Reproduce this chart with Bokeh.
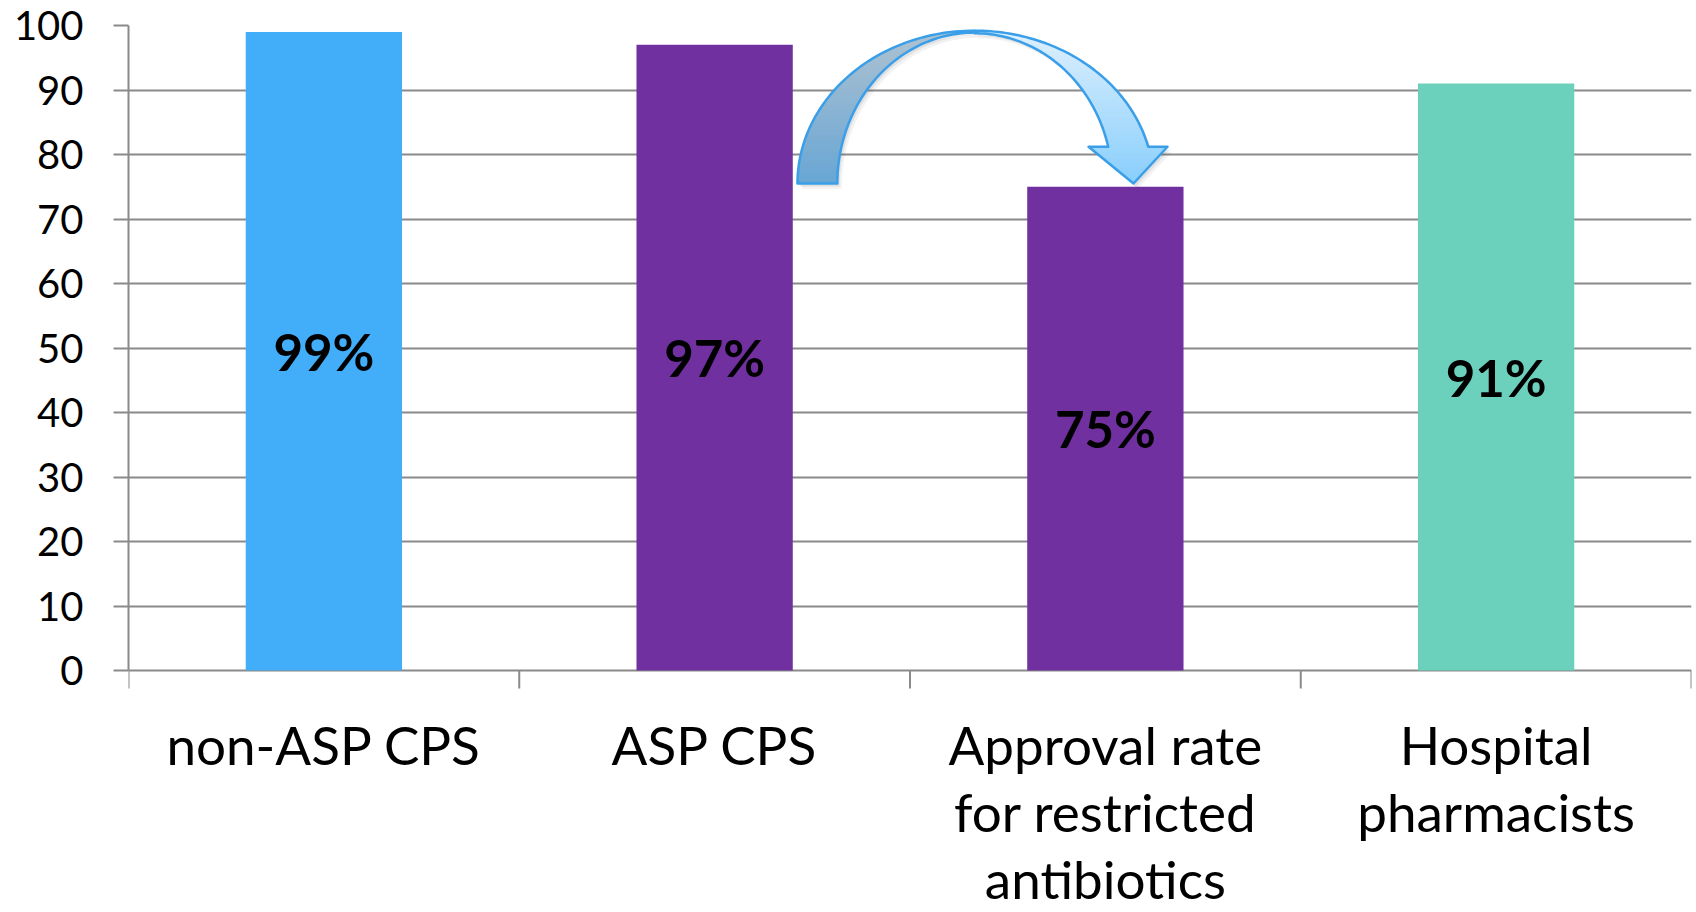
import numpy as np
from bokeh.plotting import figure
from bokeh.models import Range1d, FixedTicker
from bokeh.core.properties import value
from bokeh.embed import file_html
from bokeh.resources import INLINE

# ---- data ----
categories = ["non-ASP CPS", "ASP CPS",
              "Approval rate\nfor restricted\nantibiotics",
              "Hospital\npharmacists"]
percent = [99, 97, 75, 91]
bar_colors = ["#42AEFA", "#7030A0", "#7030A0", "#6CD1BC"]
y_ticks = [0, 10, 20, 30, 40, 50, 60, 70, 80, 90, 100]

centers = [i + 0.5 for i in range(len(categories))]
bounds = list(range(len(categories) + 1))

W, H = 1696, 912
TOP_PX = 25
PX_PER_UNIT = 6.45                  # vertical pixels per percentage point
GRID = "#8A8A8A"
FONT = "Lato"

# the plot area reaches the bottom of the canvas; the space below 0 holds
# the category names
y_start = 100 - (H - TOP_PX) / PX_PER_UNIT

p = figure(width=W, height=H,
           x_range=Range1d(0, len(categories)), y_range=Range1d(y_start, 100),
           output_backend="svg", toolbar_location=None, x_axis_location=None,
           min_border_left=128, min_border_right=5,
           min_border_top=TOP_PX, min_border_bottom=0)
p.outline_line_color = None
p.background_fill_color = "white"
p.border_fill_color = "white"

# grid (the line at 0 doubles as the category axis)
p.xgrid.visible = False
p.ygrid.ticker = FixedTicker(ticks=y_ticks)
p.ygrid.grid_line_color = GRID
p.ygrid.grid_line_width = 2

# y axis
p.yaxis.bounds = (0, 100)
p.yaxis.ticker = FixedTicker(ticks=y_ticks, minor_ticks=[])
p.yaxis.axis_line_color = GRID
p.yaxis.axis_line_width = 2
p.yaxis.major_tick_line_color = GRID
p.yaxis.major_tick_line_width = 2
p.yaxis.major_tick_out = 15
p.yaxis.major_tick_in = 0
p.yaxis.minor_tick_line_color = None
p.yaxis.major_label_standoff = 30
p.yaxis.major_label_text_font = FONT
p.yaxis.major_label_text_font_size = "40px"
p.yaxis.major_label_text_color = "black"

# category boundary ticks hanging below the baseline
tick_len = 18 / PX_PER_UNIT
p.segment(x0=bounds, y0=[0] * len(bounds), x1=bounds, y1=[-tick_len] * len(bounds),
          line_color=GRID, line_width=2)

# category names, one row per text line
first_line_px, line_px = 74, 67
lx, ly, lt = [], [], []
for c, name in zip(centers, categories):
    for k, line in enumerate(name.split("\n")):
        lx.append(c)
        ly.append(-(first_line_px + k * line_px) / PX_PER_UNIT)
        lt.append(line)
p.text(x=lx, y=ly, text=lt, text_font=value(FONT), text_font_size="53px",
       text_color="black", text_align="center", text_baseline="alphabetic")

# bars
p.vbar(x=centers, top=percent, width=0.4, fill_color=bar_colors, line_color=None)

# value labels in the middle of each bar
p.text(x=centers, y=[v / 2 for v in percent], text=[f"{v}%" for v in percent],
       text_font=value(FONT), text_font_style="bold", text_font_size="51px",
       text_color="black", text_align="center", text_baseline="middle")

# ---- curved arrow from "ASP CPS" down onto the approval-rate bar ----
xc = 2.165                 # horizontal centre of the arc
yc = percent[2] + 0.5      # base line of the arc (top of approval bar)
outer_l, inner_l = (0.453, 23.7), (0.351, 23.4)
outer_r, inner_r = (0.458, 23.7), (0.353, 23.3)
head_y = yc + 5.7
head_l, head_r, tip_x = xc + 0.292, xc + 0.494, xc + 0.407


def arc_x(ab, ys, side):
    a, b = ab
    u = np.clip((ys - yc) / b, 0, 1)
    return xc + side * a * np.sqrt(1 - u ** 2)


def head_x(ys, edge):
    f = (ys - yc) / (head_y - yc)
    return tip_x + (edge - tip_x) * f


def mix(c0, c1, f):
    return "#%02x%02x%02x" % tuple(int(round(a + (b - a) * f)) for a, b in zip(c0, c1))


top_y = yc + outer_l[1]
L_TOP, L_BOT = (174, 194, 209), (104, 166, 212)
R_TOP, R_BOT = (222, 240, 254), (136, 206, 252)

strip_xs, strip_ys, strip_cs = [], [], []

# back (left) half
edges = np.linspace(yc, top_y, 41)
for y0, y1 in zip(edges[:-1], edges[1:]):
    ys = np.linspace(y0, y1, 6)
    xo = arc_x(outer_l, ys, -1)
    xi = arc_x(inner_l, ys, -1)
    strip_xs.append(list(xo) + list(xi[::-1]))
    strip_ys.append(list(ys) + list(ys[::-1]))
    strip_cs.append(mix(L_BOT, L_TOP, ((y0 + y1) / 2 - yc) / (top_y - yc)))

# front (right) half with the head
edges = np.concatenate([np.linspace(yc, head_y, 8), np.linspace(head_y, top_y, 34)[1:]])
for y0, y1 in zip(edges[:-1], edges[1:]):
    ys = np.linspace(y0, y1, 6)
    if y1 <= head_y + 1e-9:
        xl = head_x(ys, head_l)
        xr = head_x(ys, head_r)
    else:
        xl = arc_x(inner_r, ys, 1)
        xr = arc_x(outer_r, ys, 1)
    strip_xs.append(list(xl) + list(xr[::-1]))
    strip_ys.append(list(ys) + list(ys[::-1]))
    strip_cs.append(mix(R_BOT, R_TOP, ((y0 + y1) / 2 - yc) / (top_y - yc)))

# outlines
t = np.linspace(np.pi, np.pi / 2, 60)
left_x = list(xc + outer_l[0] * np.cos(t)) + list(xc + inner_l[0] * np.cos(t[::-1]))
left_y = list(yc + outer_l[1] * np.sin(t)) + list(yc + inner_l[1] * np.sin(t[::-1]))

to = np.linspace(np.pi / 2, np.arcsin((head_y - yc) / outer_r[1]), 60)
ti = np.linspace(np.arcsin((head_y - yc) / inner_r[1]), np.pi / 2, 60)
right_x = (list(xc + outer_r[0] * np.cos(to)) + [head_r, tip_x, head_l]
           + list(xc + inner_r[0] * np.cos(ti)))
right_y = (list(yc + outer_r[1] * np.sin(to)) + [head_y, yc, head_y]
           + list(yc + inner_r[1] * np.sin(ti)))

# soft drop shadow
for dx, dy, alpha in [(0.006, -0.45, 0.10), (0.011, -0.8, 0.07)]:
    p.patches(xs=[[x + dx for x in left_x], [x + dx for x in right_x]],
              ys=[[y + dy for y in left_y], [y + dy for y in right_y]],
              fill_color="#404040", fill_alpha=alpha, line_color=None)

p.patches(xs=strip_xs, ys=strip_ys, fill_color=strip_cs,
          line_color=strip_cs, line_width=1)
p.patches(xs=[left_x, right_x], ys=[left_y, right_y], fill_alpha=0,
          line_color="#3A9FE8", line_width=2.5, line_join="round")

open("out.html", "w").write(file_html(p, INLINE))
